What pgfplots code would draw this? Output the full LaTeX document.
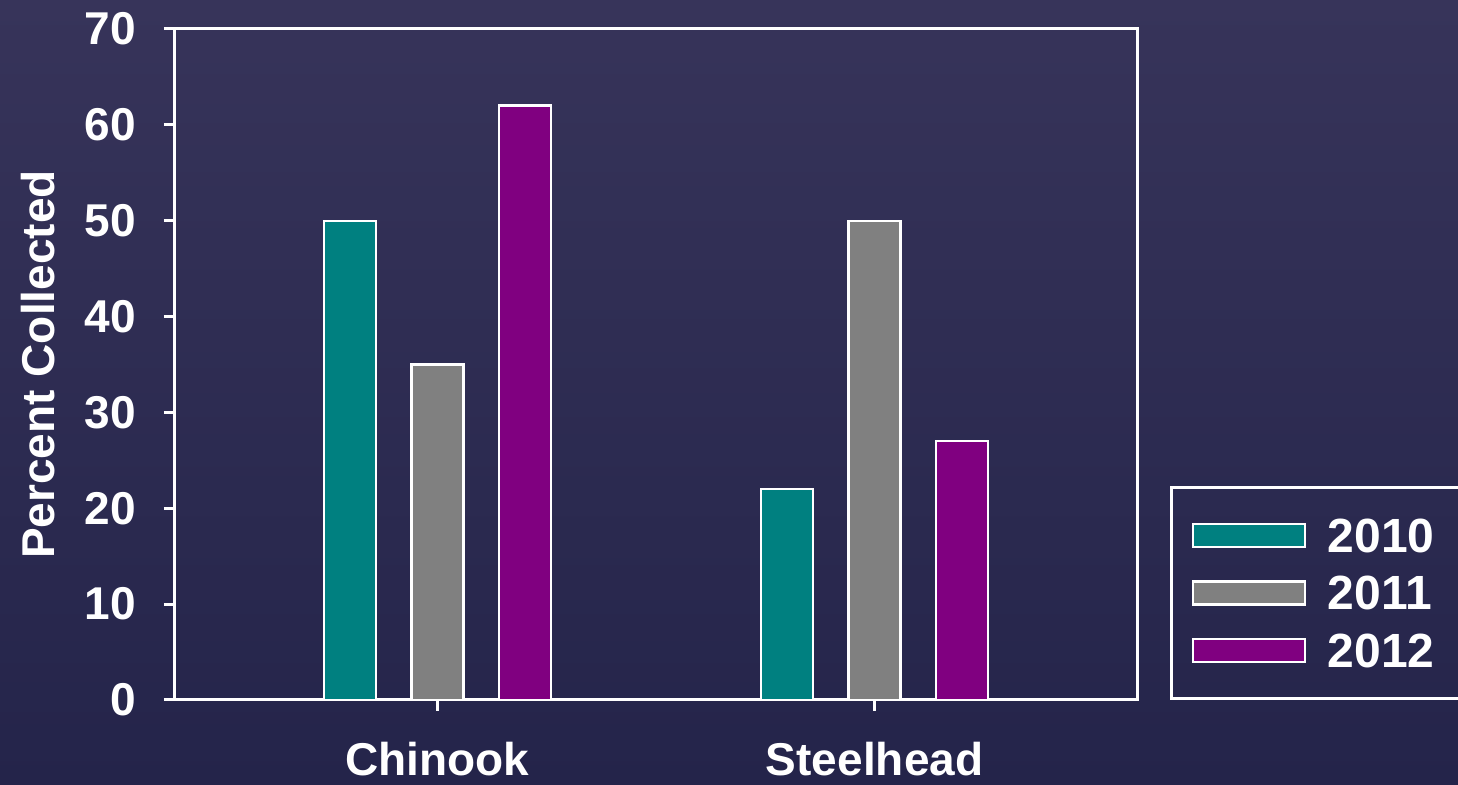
\documentclass[border=0pt]{standalone}
\usepackage{pgfplots}
\pgfplotsset{compat=1.18}
\usepackage{fontspec}
\setmainfont{Liberation Sans}

\definecolor{bgtop}{HTML}{37345A}
\definecolor{bgbot}{HTML}{24244A}
\definecolor{c2010}{HTML}{008080}
\definecolor{c2011}{HTML}{808080}
\definecolor{c2012}{HTML}{800080}

\pgfplotstableread{
cat  y2010 y2011 y2012
0    50    35    62
1    22    50    27
}\collected

\newcommand{\yearlabel}[1]{\makebox[72pt][l]{#1}}

\begin{document}
\begin{tikzpicture}
\useasboundingbox (-87.5pt,-42.5pt) rectangle (641.5pt,350pt);
\shade[top color=bgtop, bottom color=bgbot] (-87.5pt,-42.5pt) rectangle (641.5pt,350pt);
\begin{scope}
\clip (-87.5pt,-42.5pt) rectangle (641.5pt,350pt);
\begin{axis}[
  at={(0,0)}, anchor=south west,
  width=481pt, height=335.5pt, scale only axis,
  xmin=-0.6, xmax=1.6, ymin=0, ymax=70,
  xtick={0,1}, xticklabels={Chinook,Steelhead},
  ytick={0,10,...,70},
  axis line style={white, line width=1.5pt},
  tick style={white, line width=1.5pt},
  tick align=outside, tick pos=left,
  major tick length=5.5pt,
  /pgf/number format/assume math mode=true,
  every tick label/.append style={text=white, font=\fontsize{23}{23}\selectfont\bfseries},
  yticklabel style={inner sep=0pt, anchor=east, xshift=-14pt},
  xticklabel style={inner sep=0pt, anchor=north, yshift=-15.5pt},
  ylabel={Percent Collected},
  ylabel style={at={(axis description cs:-0.1424,0.5)}, anchor=center, rotate=0,
    text=white, font=\fontsize{23}{23}\selectfont\bfseries},
  ybar=17.75pt, bar width=26pt,
  legend cell align=left,
  legend image code/.code={\draw[#1, line width=1.2pt] (0pt,-5.75pt) rectangle (56pt,5.75pt);},
  legend style={at={(rel axis cs:1.0343,0)}, anchor=south west,
    draw=white, line width=1.5pt, fill=none,
    inner xsep=10pt, inner ysep=15.6pt, row sep=12pt, column sep=11pt,
    font=\fontsize{24}{24}\selectfont\bfseries, text=white,
    nodes={inner sep=0pt, text depth=0pt}},
]
\addplot[fill=c2010, draw=white, line width=1.2pt] table[x=cat, y=y2010] {\collected};
\addlegendentry{\yearlabel{2010}}
\addplot[fill=c2011, draw=white, line width=1.2pt] table[x=cat, y=y2011] {\collected};
\addlegendentry{\yearlabel{2011}}
\addplot[fill=c2012, draw=white, line width=1.2pt] table[x=cat, y=y2012] {\collected};
\addlegendentry{\yearlabel{2012}}
\end{axis}
\end{scope}
\end{tikzpicture}
\end{document}
